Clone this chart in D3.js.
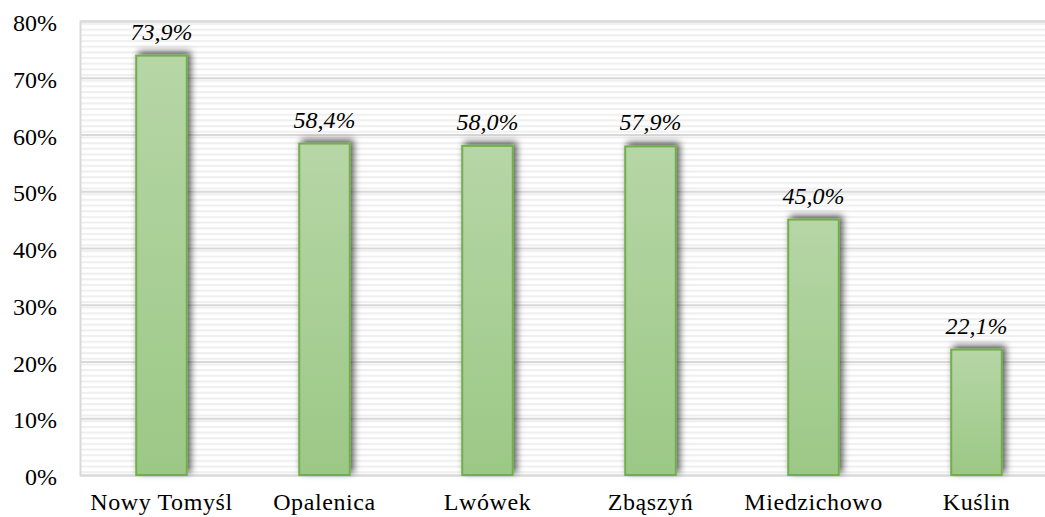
<!DOCTYPE html>
<html>
<head>
<meta charset="utf-8">
<script src="https://cdn.jsdelivr.net/npm/d3@7/dist/d3.min.js"></script>
<style>
  html, body { margin: 0; padding: 0; background: #ffffff; }
  svg { display: block; }
</style>
</head>
<body>
<svg id="chart" width="1045" height="517"></svg>
<script>
// Share of respondents per municipality
const categories = ["Nowy Tomyśl", "Opalenica", "Lwówek", "Zbąszyń", "Miedzichowo", "Kuślin"];
const values = [73.9, 58.4, 58.0, 57.9, 45.0, 22.1];
const yTicks = [0, 10, 20, 30, 40, 50, 60, 70, 80];

const svg = d3.select("#chart");
const plot = { left: 80, right: 1058, top: 21, bottom: 475 };
const FONT = "'Liberation Serif', 'DejaVu Serif', serif";

const x = d3.scaleBand()
  .domain(categories)
  .range([plot.left, plot.right])
  .paddingInner(0.69)
  .paddingOuter(0.345);

const y = d3.scaleLinear().domain([0, 80]).range([plot.bottom, plot.top]);

const defs = svg.append("defs");

// fine horizontal hatching behind the bars
const pat = defs.append("pattern")
  .attr("id", "hatch")
  .attr("patternUnits", "userSpaceOnUse")
  .attr("width", 10)
  .attr("height", 5.675)
  .attr("y", plot.top);
pat.append("rect").attr("width", 10).attr("height", 5.675).attr("fill", "#ffffff");
pat.append("rect").attr("y", 2).attr("width", 10).attr("height", 2).attr("fill", "#efefef");

// bar fill gradient
const grad = defs.append("linearGradient")
  .attr("id", "barFill")
  .attr("x1", 0).attr("y1", 0).attr("x2", 0).attr("y2", 1);
grad.append("stop").attr("offset", "0%").attr("stop-color", "#b6d6a6");
grad.append("stop").attr("offset", "100%").attr("stop-color", "#9cc886");

// soft shadow up and to the right of each bar
const f = defs.append("filter")
  .attr("id", "shadow")
  .attr("x", "-30%").attr("y", "-30%").attr("width", "160%").attr("height", "160%");
f.append("feDropShadow")
  .attr("dx", 3).attr("dy", -3)
  .attr("stdDeviation", 3.5)
  .attr("flood-color", "#000000")
  .attr("flood-opacity", 0.65);

// plot background
svg.append("rect")
  .attr("x", plot.left).attr("y", plot.top)
  .attr("width", plot.right - plot.left).attr("height", plot.bottom - plot.top)
  .attr("fill", "url(#hatch)");

// gridlines and percentage ticks
const yAxis = d3.axisLeft(y)
  .tickValues(yTicks)
  .tickSize(-(plot.right - plot.left))
  .tickFormat(d => d + "%");

const gy = svg.append("g")
  .attr("transform", `translate(${plot.left},0)`)
  .call(yAxis);
gy.select(".domain").attr("stroke", "#d9d9d9").attr("stroke-width", 2);
gy.selectAll(".tick line").attr("stroke", "#d9d9d9").attr("stroke-width", 2);
gy.selectAll(".tick text")
  .attr("x", -23)
  .attr("dy", "0.4em")
  .attr("fill", "#000000")
  .style("font-family", FONT)
  .style("font-size", "24px");

// bars
svg.append("g").selectAll("rect")
  .data(values)
  .join("rect")
  .attr("x", (d, i) => x(categories[i]))
  .attr("y", d => y(d))
  .attr("width", x.bandwidth())
  .attr("height", d => y(0) - y(d))
  .attr("fill", "url(#barFill)")
  .attr("stroke", "#72ae4c")
  .attr("stroke-width", 2)
  .attr("filter", "url(#shadow)");

// value labels
svg.append("g").selectAll("text")
  .data(values)
  .join("text")
  .attr("x", (d, i) => x(categories[i]) + x.bandwidth() / 2)
  .attr("y", d => y(d) - 16)
  .attr("text-anchor", "middle")
  .style("font-family", FONT)
  .style("font-style", "italic")
  .style("font-size", "24px")
  .attr("fill", "#000000")
  .text(d => d.toFixed(1).replace(".", ",") + "%");

// category labels
const xAxis = d3.axisBottom(x).tickSize(0).tickPadding(0);
const gx = svg.append("g")
  .attr("transform", `translate(0,${plot.bottom})`)
  .call(xAxis);
gx.select(".domain").remove();
gx.selectAll(".tick text")
  .attr("y", 35)
  .attr("dy", 0)
  .attr("fill", "#000000")
  .style("font-family", FONT)
  .style("font-size", "24px")
  .style("letter-spacing", "0.6px");
</script>
</body>
</html>
